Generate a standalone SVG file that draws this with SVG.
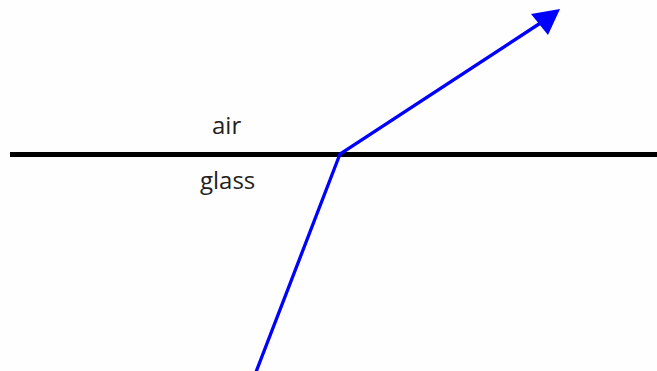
<svg xmlns="http://www.w3.org/2000/svg" width="657" height="371" viewBox="0 0 657 371">
<style>
.lbl{font-family:"Open Sans","Liberation Sans",sans-serif;font-size:24px;fill:#231f20}
.ray{fill:none;stroke:#0000ff;stroke-width:3.3;stroke-linejoin:miter}
</style>
<rect width="657" height="371" fill="#fefefe"/>
<g id="interface"><line x1="10" y1="154.5" x2="657" y2="154.5" stroke="#000" stroke-width="5"/></g>
<g id="air"><text class="lbl" x="212" y="134">air</text></g>
<g id="glass"><text class="lbl" x="200" y="189">glass</text></g>
<g id="connectors">
<polyline class="ray" points="256,372 340,154 542,22"/>
<polygon points="560,9 531,14 548,35" fill="#0000ff"/>
</g>
</svg>
